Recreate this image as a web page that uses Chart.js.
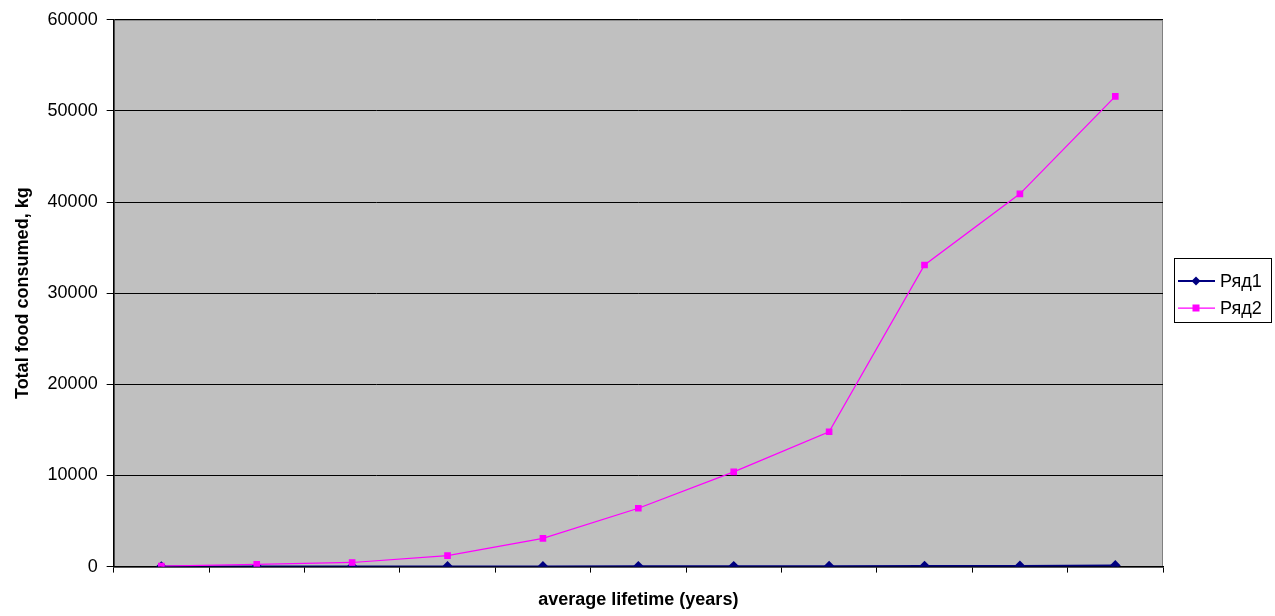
<!DOCTYPE html>
<html>
<head>
<meta charset="utf-8">
<script src="https://cdn.jsdelivr.net/npm/chart.js@4/dist/chart.umd.min.js"></script>
<style>
  html, body { margin: 0; padding: 0; background: #fff; }
  #wrap { position: relative; width: 1275px; height: 616px; }
</style>
</head>
<body>
<div id="wrap"><canvas id="chart" width="1275" height="616"></canvas></div>
<script>
// chart data
const categories = ['1', '2', '3', '4', '5', '6', '7', '8', '9', '10', '11'];
const series1 = [2, 4, 7, 12, 18, 25, 33, 42, 55, 70, 130];
const series2 = [60, 250, 450, 1200, 3100, 6400, 10400, 14800, 33100, 40900, 51600];
const yTicks = [0, 10000, 20000, 30000, 40000, 50000, 60000];

const fontFamily = '"Liberation Sans", Arial, sans-serif';

// grey plot area like Excel
const plotBackground = {
    id: 'plotBackground',
    beforeDraw(chart) {
        const a = chart.chartArea;
        const ctx = chart.ctx;
        ctx.save();
        ctx.fillStyle = '#c0c0c0';
        ctx.fillRect(a.left, a.top, a.right - a.left, a.bottom - a.top);
        ctx.strokeStyle = '#808080';
        ctx.lineWidth = 1;
        ctx.strokeRect(a.left + 0.5, a.top + 0.5, a.right - a.left - 1, a.bottom - a.top);
        ctx.restore();
    }
};

// legend box with line + marker, drawn at right
const sideLegend = {
    id: 'sideLegend',
    afterDraw(chart) {
        const ctx = chart.ctx;
        const x = 1174.5, y = 258.5, w = 97, h = 64;
        ctx.save();
        ctx.fillStyle = '#fff';
        ctx.fillRect(x, y, w, h);
        ctx.strokeStyle = '#000';
        ctx.lineWidth = 1;
        ctx.strokeRect(x, y, w, h);
        ctx.font = '18px ' + fontFamily;
        ctx.textBaseline = 'middle';
        chart.data.datasets.forEach(function(ds, i) {
            const cy = 281 + i * 27;
            ctx.strokeStyle = ds.borderColor;
            ctx.lineWidth = ds.borderWidth;
            ctx.beginPath();
            ctx.moveTo(1178, cy);
            ctx.lineTo(1215, cy);
            ctx.stroke();
            ctx.fillStyle = ds.pointBackgroundColor;
            if (ds.pointStyle === 'rectRot') {
                ctx.beginPath();
                ctx.moveTo(1196, cy - 4.5);
                ctx.lineTo(1200.5, cy);
                ctx.lineTo(1196, cy + 4.5);
                ctx.lineTo(1191.5, cy);
                ctx.closePath();
                ctx.fill();
            } else {
                ctx.fillRect(1192.5, cy - 3.5, 7, 7);
            }
            ctx.fillStyle = '#000';
            ctx.fillText(ds.label, 1220, cy + 1);
        });
        ctx.restore();
    }
};

const ctx = document.getElementById('chart').getContext('2d');
new Chart(ctx, {
    type: 'line',
    data: {
        labels: categories,
        datasets: [
            {
                label: 'Ряд1',
                data: series1,
                order: 1,
                borderColor: '#000080',
                backgroundColor: '#000080',
                pointBackgroundColor: '#000080',
                pointBorderColor: '#000080',
                pointStyle: 'rectRot',
                pointRadius: 4,
                borderWidth: 2,
                tension: 0
            },
            {
                label: 'Ряд2',
                data: series2,
                order: 0,
                borderColor: '#ff00ff',
                backgroundColor: '#ff00ff',
                pointBackgroundColor: '#ff00ff',
                pointBorderColor: '#ff00ff',
                pointStyle: 'rect',
                pointRadius: 3.8,
                borderWidth: 1.25,
                tension: 0
            }
        ]
    },
    options: {
        responsive: false,
        animation: false,
        layout: {
            padding: { left: 12, top: 5, right: 112, bottom: 5 }
        },
        plugins: {
            legend: { display: false },
            tooltip: { enabled: false }
        },
        scales: {
            x: {
                offset: true,
                grid: {
                    offset: true,
                    drawOnChartArea: false,
                    drawTicks: true,
                    tickLength: 6,
                    color: '#000'
                },
                border: { color: '#000', width: 1.5 },
                ticks: {
                    callback: function() { return ''; },
                    font: { family: fontFamily, size: 4 }
                },
                title: {
                    display: true,
                    text: 'average lifetime (years)',
                    color: '#000',
                    font: { family: fontFamily, size: 18, weight: 'bold' },
                    padding: { top: 6, bottom: 0 }
                }
            },
            y: {
                min: 0,
                max: 60000,
                afterBuildTicks: function(axis) {
                    axis.ticks = yTicks.map(function(v) { return { value: v }; });
                },
                grid: {
                    color: '#000',
                    lineWidth: 1,
                    drawTicks: true,
                    tickLength: 7
                },
                border: { color: '#000', width: 1.5 },
                ticks: {
                    color: '#000',
                    padding: 9,
                    font: { family: fontFamily, size: 18 },
                    callback: function(value) { return String(value); }
                },
                title: {
                    display: true,
                    text: 'Total food consumed, kg',
                    color: '#000',
                    font: { family: fontFamily, size: 18, weight: 'bold' },
                    padding: { top: 0, bottom: 5 }
                }
            }
        }
    },
    plugins: [plotBackground, sideLegend]
});
</script>
</body>
</html>
